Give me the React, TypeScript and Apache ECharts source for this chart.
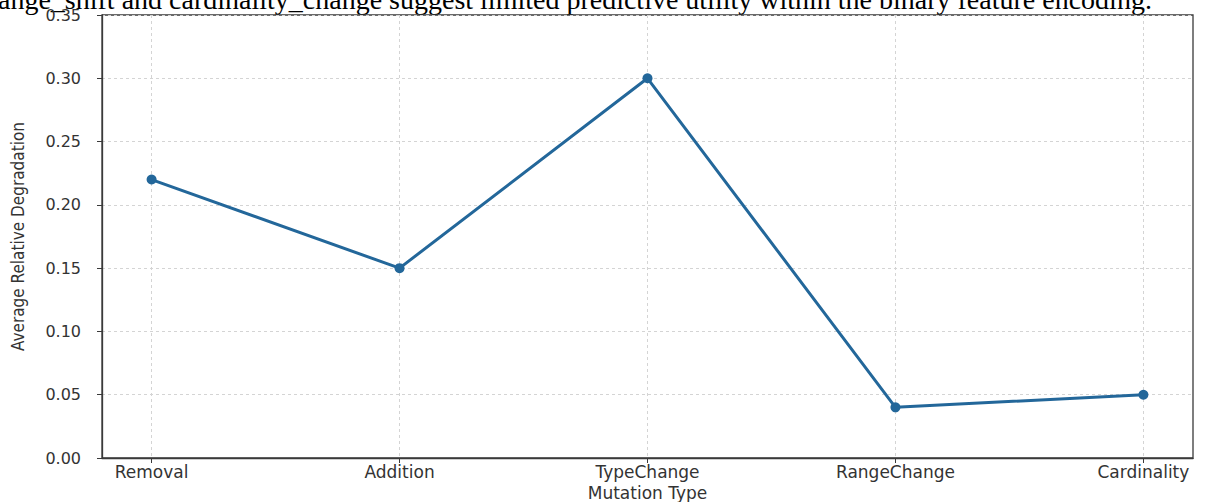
import React, { useEffect, useRef } from "react";
import * as echarts from "echarts";

const categories = ["Removal", "Addition", "TypeChange", "RangeChange", "Cardinality"];
const degradation = [0.22, 0.15, 0.3, 0.04, 0.05];
const yTicks = [0, 0.05, 0.1, 0.15, 0.2, 0.25, 0.3, 0.35];
const captionText =
  "ange_shift and cardinality_change suggest limited predictive utility within the binary feature encoding.";

export default function App() {
  const ref = useRef<HTMLDivElement>(null);
  useEffect(() => {
    if (!ref.current) return;
    const chart = echarts.init(ref.current, null, { renderer: "svg" });
    const positions = categories.map((_, i) => i);
    chart.setOption({
      animation: false,
      backgroundColor: "#ffffff",
      grid: {
        left: 102,
        right: 13,
        top: 15,
        bottom: 44,
        containLabel: false,
        outerBoundsMode: "none",
        show: true,
        borderColor: "#3a3a3a",
        borderWidth: 1.3,
      },
      graphic: [
        {
          type: "text",
          left: -2,
          top: -15,
          z: -1,
          style: {
            text: captionText,
            font: "28px 'Liberation Serif', serif",
            fill: "#000000",
          },
        },
      ],
      xAxis: {
        type: "value",
        min: -0.2,
        max: 4.2,
        name: "Mutation Type",
        nameLocation: "middle",
        nameGap: 23,
        nameTextStyle: { fontFamily: "DejaVu Sans", fontSize: 17, color: "#333" },
        axisLine: { show: true, onZero: false, lineStyle: { color: "#3a3a3a", width: 1.3 } },
        axisTick: {
          show: true,
          customValues: positions,
          length: 5,
          lineStyle: { color: "#3a3a3a" },
        },
        axisLabel: {
          customValues: positions,
          formatter: (v: number) => categories[Math.round(v)] ?? "",
          fontFamily: "DejaVu Sans",
          fontSize: 17,
          color: "#333",
          margin: 5,
        },
        splitLine: {
          show: true,
          lineStyle: { color: "#d4d4d4", type: [3, 3], width: 1 },
        },
      },
      yAxis: {
        type: "value",
        min: 0,
        max: 0.35,
        interval: 0.05,
        name: "Average Relative Degradation",
        nameLocation: "middle",
        nameGap: 76,
        nameTextStyle: { fontFamily: "DejaVu Sans Condensed, DejaVu Sans", fontSize: 17, color: "#333" },
        axisLine: { show: true, onZero: false, lineStyle: { color: "#3a3a3a", width: 1.3 } },
        axisTick: { show: true, length: 5, lineStyle: { color: "#3a3a3a" } },
        axisLabel: {
          formatter: (v: number) => {
            const m = yTicks.find((t) => Math.abs(t - v) < 1e-9);
            return (m ?? v).toFixed(2);
          },
          fontFamily: "DejaVu Sans",
          fontSize: 16,
          color: "#333",
          margin: 21,
        },
        splitLine: {
          show: true,
          lineStyle: { color: "#d4d4d4", type: [3, 3], width: 1 },
        },
      },
      series: [
        {
          type: "line",
          data: degradation.map((v, i) => [positions[i], v]),
          symbol: "circle",
          symbolSize: 10,
          lineStyle: { color: "#23679a", width: 3 },
          itemStyle: { color: "#23679a" },
        },
      ],
    });
    return () => chart.dispose();
  }, []);
  return (
    <div
      ref={ref}
      style={{ position: "fixed", left: 0, top: 0, width: 1206, height: 502 }}
    />
  );
}
